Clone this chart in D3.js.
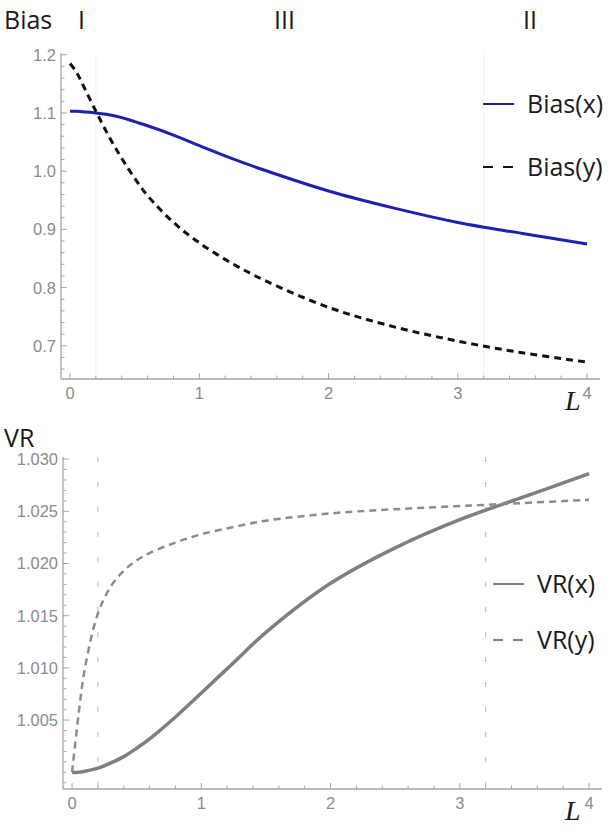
<!DOCTYPE html>
<html>
<head>
<meta charset="utf-8">
<script src="https://cdn.jsdelivr.net/npm/d3@7"></script>
<style>
  body { margin: 0; background: #fff; }
  svg { display: block; }
  .tick-label { font-family: 'Liberation Sans', Arial, sans-serif; font-size: 16.5px; fill: #8c8c8c; }
  .title { font-family: 'Open Sans', 'Noto Sans', sans-serif; font-size: 25px; fill: #1a1a1a; }
  .legend-text { font-family: 'Open Sans', 'Noto Sans', sans-serif; font-size: 25px; fill: #1a1a1a; }
  .axis-L { font-family: 'Liberation Serif', 'DejaVu Serif', serif; font-style: italic; font-size: 28px; fill: #1a1a1a; }
</style>
</head>
<body>
<div id="chart"></div>
<script>
// L values (x axis) shared by all curves
var L = [0, 0.05, 0.1, 0.2, 0.3, 0.4, 0.5, 0.6, 0.8, 1.0, 1.25, 1.5, 2.0, 2.5, 3.0, 3.5, 4.0];

// top panel
var biasX = [1.103, 1.103, 1.102, 1.100, 1.097, 1.092, 1.085, 1.078, 1.062, 1.044, 1.022, 1.002, 0.966, 0.937, 0.912, 0.893, 0.875];
var biasY = [1.185, 1.170, 1.148, 1.103, 1.060, 1.022, 0.988, 0.958, 0.912, 0.877, 0.842, 0.813, 0.766, 0.733, 0.708, 0.688, 0.672];

// bottom panel
var vrX = [1.0000, 1.0000, 1.0001, 1.0004, 1.0009, 1.0015, 1.0023, 1.0032, 1.0053, 1.0076, 1.0105, 1.0134, 1.0181, 1.0215, 1.0242, 1.0264, 1.0286];
var vrY = [1.0000, 1.0055, 1.0100, 1.0152, 1.0178, 1.0193, 1.0203, 1.0210, 1.0220, 1.0228, 1.0235, 1.0241, 1.0248, 1.0252, 1.0255, 1.0258, 1.0261];

var xTicks = [0, 1, 2, 3, 4];
var biasTicks = [0.7, 0.8, 0.9, 1.0, 1.1, 1.2];
var vrTicks = [1.005, 1.010, 1.015, 1.020, 1.025, 1.030];
var regionLines = [0.2, 3.2];   // borders between regions I / III / II
var regionLabels = [{ text: 'I', x: 78 }, { text: 'III', x: 274 }, { text: 'II', x: 523 }];

var width = 613;
var height = 834;

var svg = d3.select('#chart')
    .append('svg')
    .attr('width', width)
    .attr('height', height);

function drawPanel(opt) {
    var x = d3.scaleLinear().domain([-0.07, 4.1]).range([opt.left, 600 + (opt.left - 61)]);
    var y = d3.scaleLinear().domain(opt.yDomain).range([opt.bottom, opt.top]);
    var g = svg.append('g');

    // region lines
    g.selectAll('.region')
        .data(regionLines)
        .enter()
        .append('line')
        .attr('x1', function(d) { return x(d); })
        .attr('x2', function(d) { return x(d); })
        .attr('y1', opt.top)
        .attr('y2', opt.bottom)
        .attr('stroke', opt.regionColor)
        .attr('stroke-width', 1)
        .attr('stroke-dasharray', opt.regionDash);

    // axes lines
    g.append('line')
        .attr('x1', opt.left).attr('x2', x(4.1))
        .attr('y1', opt.bottom).attr('y2', opt.bottom)
        .attr('stroke', '#a6a6a6').attr('stroke-width', 1.3);
    g.append('line')
        .attr('x1', opt.left).attr('x2', opt.left)
        .attr('y1', opt.bottom).attr('y2', opt.top)
        .attr('stroke', '#a6a6a6').attr('stroke-width', 1.3);

    // x minor + major ticks (inside)
    var xMinor = d3.range(0, 4.01, 0.2);
    g.selectAll('.xtick')
        .data(xMinor)
        .enter()
        .append('line')
        .attr('x1', function(d) { return x(d); })
        .attr('x2', function(d) { return x(d); })
        .attr('y1', opt.bottom)
        .attr('y2', function(d) { return opt.bottom - (Math.abs(d - Math.round(d)) < 1e-6 ? 6 : 3.5); })
        .attr('stroke', '#a6a6a6');
    g.selectAll('.xlabel')
        .data(xTicks)
        .enter()
        .append('text')
        .attr('class', 'tick-label')
        .attr('x', function(d) { return x(d); })
        .attr('y', opt.bottom + 20)
        .attr('text-anchor', 'middle')
        .text(function(d) { return d; });

    // y minor + major ticks
    var step = opt.minorStep;
    var yMinor = d3.range(Math.ceil(opt.yDomain[0] / step) * step, opt.yDomain[1] + step / 10, step);
    g.selectAll('.ytick')
        .data(yMinor)
        .enter()
        .append('line')
        .attr('x1', opt.left)
        .attr('x2', function(d) {
            var major = opt.yTicks.some(function(t) { return Math.abs(t - d) < step / 10; });
            return opt.left + (major ? 6 : 3.5);
        })
        .attr('y1', function(d) { return y(d); })
        .attr('y2', function(d) { return y(d); })
        .attr('stroke', '#a6a6a6');
    g.selectAll('.ylabel')
        .data(opt.yTicks)
        .enter()
        .append('text')
        .attr('class', 'tick-label')
        .attr('x', opt.left - 5)
        .attr('y', function(d) { return y(d) + 6; })
        .attr('text-anchor', 'end')
        .text(opt.yFormat);

    // curves
    opt.series.forEach(function(s) {
        var line = d3.line()
            .x(function(d, i) { return x(L[i]); })
            .y(function(d) { return y(d); })
            .curve(d3.curveCatmullRom.alpha(0.5));
        g.append('path')
            .datum(s.values)
            .attr('d', line)
            .attr('fill', 'none')
            .attr('stroke', s.color)
            .attr('stroke-width', s.width)
            .attr('stroke-dasharray', s.dash);

        // legend entry
        g.append('line')
            .attr('x1', s.lx).attr('x2', s.lx + 31)
            .attr('y1', s.ly).attr('y2', s.ly)
            .attr('stroke', s.legendColor)
            .attr('stroke-width', 2)
            .attr('stroke-dasharray', s.dash ? '10,10' : null);
        g.append('text')
            .attr('class', 'legend-text')
            .attr('x', s.lx + 44)
            .attr('y', s.ly + 9)
            .text(s.name);
    });

    // L label
    g.append('text')
        .attr('class', 'axis-L')
        .attr('x', 565)
        .attr('y', opt.bottom + 31)
        .text('L');

    return { x: x, y: y };
}

drawPanel({
    left: 61, top: 53, bottom: 379,
    yDomain: [0.643, 1.203],
    yTicks: biasTicks,
    minorStep: 0.02,
    yFormat: d3.format('.1f'),
    regionColor: '#f2f2f2',
    regionDash: null,
    series: [
        { name: 'Bias(x)', values: biasX, color: '#1f1fb0', legendColor: '#1f1f8f', width: 3, dash: null, lx: 483, ly: 104 },
        { name: 'Bias(y)', values: biasY, color: '#111', legendColor: '#111', width: 3, dash: '7,5', lx: 483, ly: 167 }
    ]
});

drawPanel({
    left: 63, top: 457, bottom: 789,
    yDomain: [0.9984, 1.0302],
    yTicks: vrTicks,
    minorStep: 0.001,
    yFormat: d3.format('.3f'),
    regionColor: '#b5b5b5',
    regionDash: '5,20',
    series: [
        { name: 'VR(x)', values: vrX, color: '#7f7f7f', legendColor: '#808080', width: 3.5, dash: null, lx: 493, ly: 584 },
        { name: 'VR(y)', values: vrY, color: '#8c8c8c', legendColor: '#808080', width: 2.5, dash: '7,5', lx: 493, ly: 640 }
    ]
});

// titles and region labels
svg.append('text').attr('class', 'title').attr('x', 4).attr('y', 29).text('Bias');
svg.append('text').attr('class', 'title').attr('x', 4).attr('y', 447).text('VR');
svg.selectAll('.region-label')
    .data(regionLabels)
    .enter()
    .append('text')
    .attr('class', 'title')
    .attr('x', function(d) { return d.x; })
    .attr('y', 29)
    .text(function(d) { return d.text; });
</script>
</body>
</html>
